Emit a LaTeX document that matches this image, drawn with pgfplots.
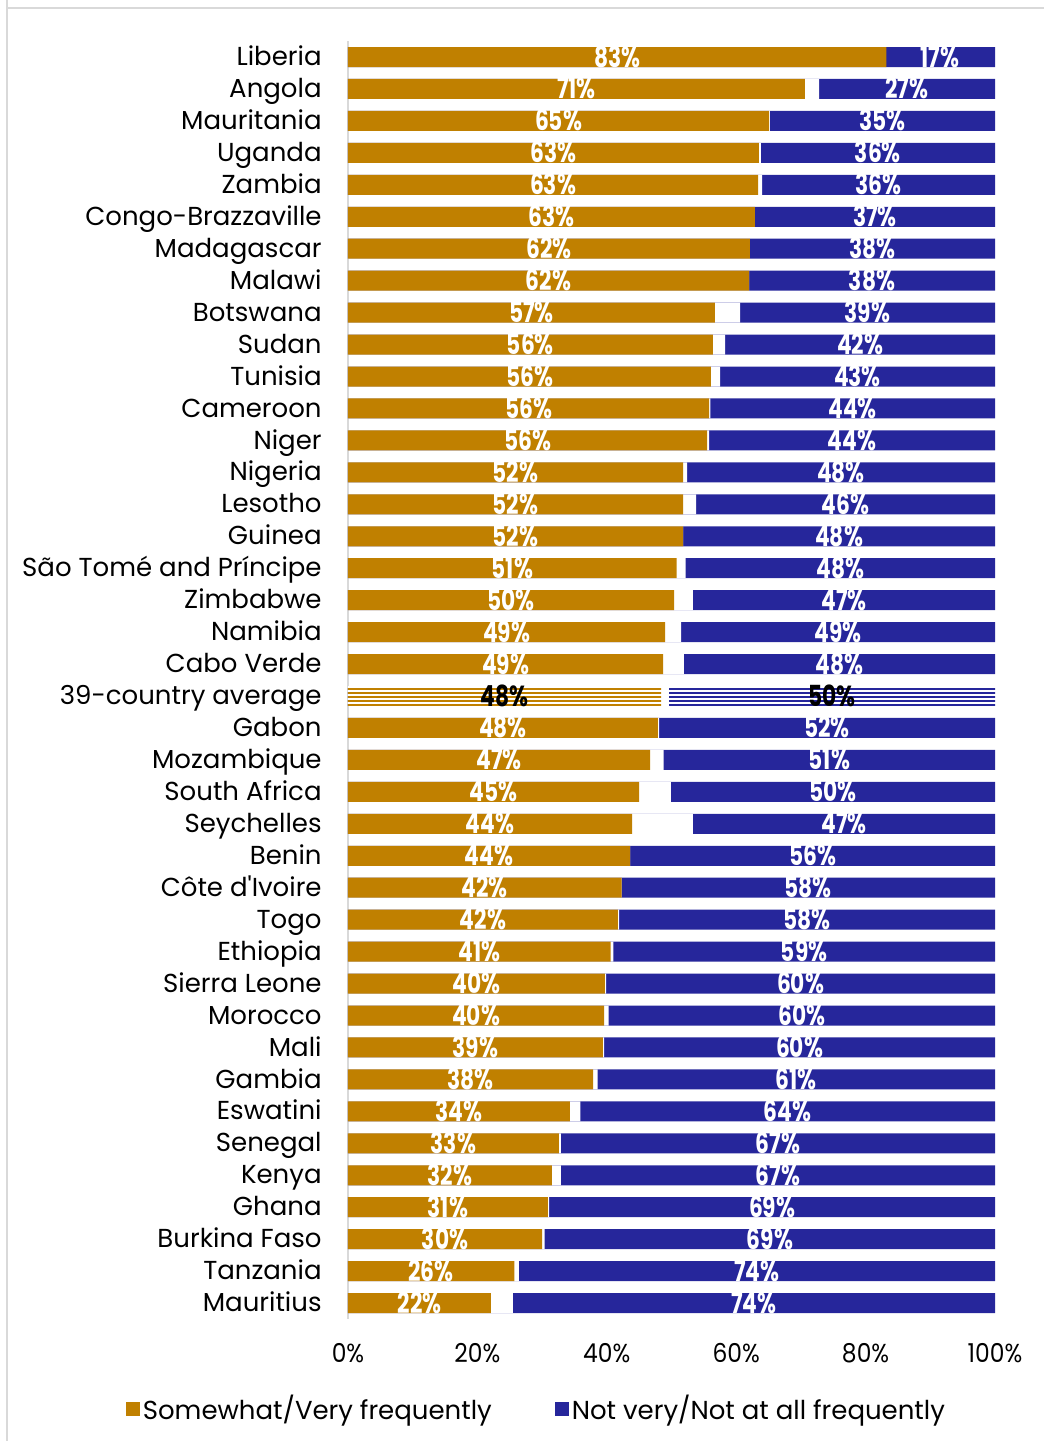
\documentclass[border=0pt]{standalone}
\usepackage{pgfplots}
\pgfplotsset{compat=1.18}
\usepackage{pgfplotstable}
\usepackage{fontspec}
\setmainfont{Poppins}
\usetikzlibrary{patterns.meta}
\definecolor{cOr}{RGB}{192,128,0}
\definecolor{cBl}{RGB}{38,38,155}
\definecolor{cGr}{RGB}{217,217,217}

\pgfplotstableread{
idx o b ol bl
0 83.2 17.0 83 17
1 70.6 27.2 71 27
2 65.1 34.8 65 35
3 63.5 36.2 63 36
4 63.4 36.0 63 36
5 62.9 37.1 63 37
6 62.1 37.9 62 38
7 62.0 38.0 62 38
8 56.7 39.4 57 39
9 56.4 41.7 56 42
10 56.1 42.5 56 43
11 55.8 44.0 56 44
12 55.5 44.2 56 44
13 51.8 47.6 52 48
14 51.8 46.2 52 46
15 51.8 48.2 52 48
16 50.8 47.8 51 48
17 50.4 46.7 50 47
18 49.0 48.5 49 49
19 48.7 48.1 49 48
21 47.9 51.9 48 52
22 46.7 51.2 47 51
23 45.0 50.1 45 50
24 43.9 46.7 44 47
25 43.6 56.4 44 56
26 42.3 57.7 42 58
27 41.7 58.1 42 58
28 40.6 59.0 41 59
29 39.7 60.1 40 60
30 39.6 59.7 40 60
31 39.4 60.4 39 60
32 37.9 61.4 38 61
33 34.3 64.1 34 64
34 32.6 67.1 33 67
35 31.5 67.1 32 67
36 30.9 68.9 31 69
37 30.0 69.6 30 69
38 25.7 73.6 26 74
39 22.1 74.5 22 74
}\data

\pgfplotstableread{
idx o b ol bl
20 48.4 50.4 48 50
}\avg

\begin{document}
\begin{tikzpicture}
\useasboundingbox (0,0) rectangle (522pt,-720.5pt);
\draw[cGr, line width=1pt] (3.5pt,0) -- (3.5pt,-720.5pt);
\draw[cGr, line width=1pt] (3.5pt,-4pt) -- (522pt,-4pt);
\begin{axis}[
  at={(174pt,-659.5pt)}, anchor=south west,
  scale only axis, width=323.5pt, height=639pt,
  xmin=0, xmax=100, ymin=-0.5, ymax=39.5, y dir=reverse,
  axis lines*=left,
  x axis line style={draw=none},
  y axis line style={draw=cGr, line width=1pt},
  major tick length=0pt,
  /pgf/number format/assume math mode=true,
  xtick={0,20,40,60,80,100},
  xticklabel={\scalebox{0.9}[1]{\pgfmathprintnumber{\tick}\%}},
  xticklabel style={anchor=center, yshift=-17pt, font=\fontsize{13}{15}\selectfont},
  ytick={0,...,39},
  yticklabels={Liberia,Angola,Mauritania,Uganda,Zambia,Congo-Brazzaville,Madagascar,Malawi,Botswana,Sudan,Tunisia,Cameroon,Niger,Nigeria,Lesotho,Guinea,São Tomé and Príncipe,Zimbabwe,Namibia,Cabo Verde,39-country average,Gabon,Mozambique,South Africa,Seychelles,Benin,Côte d\textquotesingle Ivoire,Togo,Ethiopia,Sierra Leone,Morocco,Mali,Gambia,Eswatini,Senegal,Kenya,Ghana,Burkina Faso,Tanzania,Mauritius},
  yticklabel style={anchor=base east, inner sep=0pt, xshift=-13pt, yshift=-4.3pt, font=\fontsize{13}{15}\selectfont},
  legend style={draw=none, at={(0.292,-0.0704)}, anchor=center, legend columns=2,
    font=\fontsize{13}{15}\selectfont,
    /tikz/every even column/.append style={column sep=30pt},
    nodes={inner xsep=1.5pt}},
  legend image code/.code={\fill[#1] (0pt,-3.5pt) rectangle (7pt,3.5pt);},
]
% blue full
\addplot[xbar, bar width=10pt, bar shift=0pt, fill=cBl, draw=none, forget plot] table[x expr=100, y=idx] {\data};
% white cover
\addplot[xbar, bar width=10pt, bar shift=0pt, fill=white, draw=none, forget plot] table[x expr=100-\thisrow{b}, y=idx] {\data};
% orange
\addplot[xbar, bar width=10pt, bar shift=0pt, fill=cOr, draw=none, forget plot] table[x=o, y=idx] {\data};
% average row
\addplot[xbar, bar width=10pt, bar shift=0pt, draw=none, pattern={Lines[angle=0, distance=2pt, line width=1pt]}, pattern color=cBl, forget plot] table[x expr=100, y=idx] {\avg};
\addplot[xbar, bar width=10pt, bar shift=0pt, fill=white, draw=none, forget plot] table[x expr=100-\thisrow{b}, y=idx] {\avg};
\addplot[xbar, bar width=10pt, bar shift=0pt, draw=none, pattern={Lines[angle=0, distance=2pt, line width=1pt]}, pattern color=cOr, forget plot] table[x=o, y=idx] {\avg};
% labels
\addplot[draw=none, mark=none, forget plot, point meta=explicit,
  nodes near coords={\scalebox{0.75}[1]{\bfseries\pgfmathprintnumber[fixed,precision=0]{\pgfplotspointmeta}\%}},
  nodes near coords style={anchor=base, yshift=-5pt, inner sep=0pt, text=white, font=\fontsize{14.5}{16}\selectfont}]
  table[x expr=\thisrow{o}/2, y=idx, meta=ol] {\data};
\addplot[draw=none, mark=none, forget plot, point meta=explicit,
  nodes near coords={\scalebox{0.75}[1]{\bfseries\pgfmathprintnumber[fixed,precision=0]{\pgfplotspointmeta}\%}},
  nodes near coords style={anchor=base, yshift=-5pt, inner sep=0pt, text=white, font=\fontsize{14.5}{16}\selectfont}]
  table[x expr=100-\thisrow{b}/2, y=idx, meta=bl] {\data};
\addplot[draw=none, mark=none, forget plot, point meta=explicit,
  nodes near coords={\scalebox{0.75}[1]{\bfseries\pgfmathprintnumber[fixed,precision=0]{\pgfplotspointmeta}\%}},
  nodes near coords style={anchor=base, yshift=-5pt, inner sep=0pt, text=black, font=\fontsize{14.5}{16}\selectfont}]
  table[x expr=\thisrow{o}/2, y=idx, meta=ol] {\avg};
\addplot[draw=none, mark=none, forget plot, point meta=explicit,
  nodes near coords={\scalebox{0.75}[1]{\bfseries\pgfmathprintnumber[fixed,precision=0]{\pgfplotspointmeta}\%}},
  nodes near coords style={anchor=base, yshift=-5pt, inner sep=0pt, text=black, font=\fontsize{14.5}{16}\selectfont}]
  table[x expr=100-\thisrow{b}/2, y=idx, meta=bl] {\avg};
\addlegendimage{fill=cOr, draw=none}
\addlegendentry{Somewhat/Very frequently}
\addlegendimage{fill=cBl, draw=none}
\addlegendentry{Not very/Not at all frequently}
\end{axis}
\end{tikzpicture}
\end{document}
